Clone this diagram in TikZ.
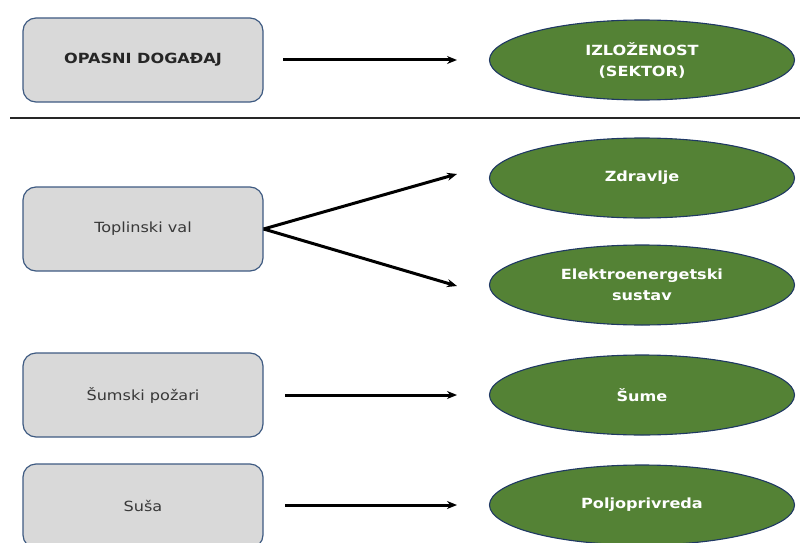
\documentclass[tikz,border=0pt]{standalone}
\usepackage{fontspec}
\setmainfont{DejaVu Sans}[FakeStretch=1.15]
\usetikzlibrary{shapes.geometric,arrows.meta}
\definecolor{boxfill}{HTML}{D9D9D9}
\definecolor{boxedge}{HTML}{3F5B82}
\definecolor{sectorfill}{HTML}{548235}
\definecolor{sectoredge}{HTML}{1F3864}
\tikzset{
  x=1pt, y=-1pt,
  hazard/.style={draw=boxedge, fill=boxfill, line width=1.2pt, rounded corners=13pt,
    minimum width=240pt, minimum height=84pt, font=\fontsize{14}{16}\selectfont, text=black!78},
  sector/.style={ellipse, draw=sectoredge, fill=sectorfill, line width=1.1pt,
    minimum width=305pt, minimum height=80pt, inner sep=0pt, text=white,
    font=\bfseries\fontsize{14}{21}\selectfont, align=center},
  link/.style={line width=3pt, -{Stealth[length=10pt,width=8pt]}},
}
\begin{document}
\begin{tikzpicture}
\useasboundingbox (0,0) rectangle (800,543);
% header row
\node[hazard, font=\bfseries\fontsize{14}{16}\selectfont, text=black!85] (head) at (143,60) {OPASNI DOGAĐAJ};
\node[sector] (expo) at (642,60) {IZLOŽENOST\\(SEKTOR)};
\coordinate (ha) at (283,60);
\coordinate (hb) at (457,60);
\draw[link] (ha) -- (hb);
\draw[line width=1.3pt, black!85] (10,118) -- (800,118);
% heat wave
\node[hazard] (heat) at (143,229) {Toplinski val};
\node[sector] (health) at (642,178) {Zdravlje};
\node[sector] (power) at (642,285) {Elektroenergetski\\sustav};
\coordinate (h1) at (457,174);
\coordinate (h2) at (457,286);
\draw[link] (heat.east) -- (h1);
\draw[link] (heat.east) -- (h2);
% forest fires
\node[hazard] (fire) at (143,395) {Šumski požari};
\node[sector] (forest) at (642,395) {Šume};
\coordinate (f1) at (285,395);
\coordinate (f2) at (457,395);
\draw[link] (f1) -- (f2);
% drought
\node[hazard] (drought) at (143,506) {Suša};
\node[sector] (agri) at (642,505) {Poljoprivreda};
\coordinate (d1) at (285,505);
\coordinate (d2) at (457,505);
\draw[link] (d1) -- (d2);
\end{tikzpicture}
\end{document}
